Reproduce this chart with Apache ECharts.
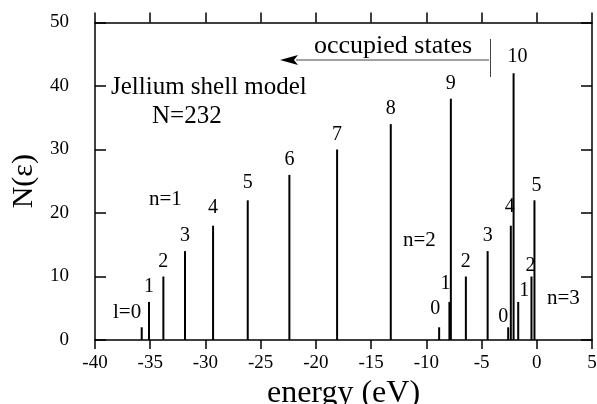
<!DOCTYPE html>
<html>
<head>
<meta charset="utf-8">
<script src="https://cdn.jsdelivr.net/npm/echarts@6/dist/echarts.min.js"></script>
<style>
  html, body { margin: 0; padding: 0; background: #fff; }
  #chart { width: 597px; height: 404px; }
</style>
</head>
<body>
<div id="chart"></div>
<script>
// shell levels of the jellium model, energies in eV, N = 2(2l+1)
const n1Energy = [-35.77, -35.11, -33.81, -31.85, -29.31, -26.17, -22.4, -18.08, -13.22, -7.78, -2.1];
const n1Count = [2, 6, 10, 14, 18, 22, 26, 30, 34, 38, 42];
const n2Energy = [-8.84, -7.91, -6.42, -4.45, -2.35, -0.21];
const n2Count = [2, 6, 10, 14, 18, 22];
const n3Energy = [-2.59, -1.68, -0.48];
const n3Count = [2, 6, 10];

const font = 'Liberation Serif';

// small label nudges where the numbers sit off the line
const nudge = {
  '1-4': [0, -3],
  '1-5': [0, -3],
  '1-10': [4, -2],
  '2-0': [-4, -4],
  '2-1': [-4, -3],
  '2-4': [-1, -4],
  '2-5': [2, 0],
  '3-0': [-5, 4],
  '3-1': [6, 4],
  '3-2': [-1, 4]
};

function levels(n, energy, count) {
  return energy.map((e, l) => {
    const item = { value: [e, count[l]] };
    const k = n + '-' + l;
    if (nudge[k]) item.label = { offset: nudge[k] };
    return item;
  });
}

function shellSeries(n, energy, count) {
  return {
    name: 'n=' + n,
    type: 'bar',
    barWidth: 2,
    barGap: '-100%',
    itemStyle: { color: '#000' },
    label: {
      show: true,
      position: 'top',
      distance: 5,
      fontSize: 20,
      fontFamily: font,
      color: '#000',
      formatter: p => (n === 1 && p.dataIndex === 0) ? '' : String(p.dataIndex)
    },
    data: levels(n, energy, count)
  };
}

function txt(str, x, y, size) {
  return {
    type: 'text',
    left: x,
    top: y - size / 2,
    style: { text: str, fontSize: size, fontFamily: font, fill: '#000' }
  };
}

const chart = echarts.init(document.getElementById('chart'));

const axisLine = { show: true, onZero: false, lineStyle: { color: '#000', width: 1.5 } };
const tickStyle = { color: '#000', width: 1.5 };

const option = {
  animation: false,
  grid: { left: 95, right: 5, top: 22.5, bottom: 64, outerBoundsMode: 'none', containLabel: false },
  xAxis: [
    {
      type: 'value',
      min: -40,
      max: 5,
      interval: 5,
      position: 'bottom',
      axisLine: axisLine,
      axisTick: { show: true, inside: false, length: 9, lineStyle: tickStyle },
      axisLabel: { fontSize: 19, fontFamily: font, color: '#000', margin: 14 },
      splitLine: { show: false },
      name: 'energy (eV)',
      nameLocation: 'middle',
      nameGap: 31,
      nameTextStyle: { fontSize: 32, fontFamily: font, color: '#000' }
    },
    {
      type: 'value',
      min: -40,
      max: 5,
      interval: 5,
      position: 'top',
      axisLine: axisLine,
      axisTick: { show: true, inside: false, length: 10, lineStyle: tickStyle },
      axisLabel: { show: false },
      splitLine: { show: false }
    }
  ],
  yAxis: [
    {
      type: 'value',
      min: 0,
      max: 50,
      interval: 10,
      position: 'left',
      axisLine: axisLine,
      axisTick: { show: true, inside: true, length: 11, lineStyle: tickStyle },
      axisLabel: { fontSize: 19, fontFamily: font, color: '#000', margin: 26 },
      splitLine: { show: false },
      name: 'N(ε)',
      nameLocation: 'middle',
      nameGap: 55,
      nameTextStyle: { fontSize: 30, fontFamily: font, color: '#000' }
    },
    {
      type: 'value',
      min: 0,
      max: 50,
      interval: 10,
      position: 'right',
      axisLine: axisLine,
      axisTick: { show: true, inside: true, length: 11, lineStyle: tickStyle },
      axisLabel: { show: false },
      splitLine: { show: false }
    }
  ],
  series: [
    shellSeries(1, n1Energy, n1Count),
    shellSeries(2, n2Energy, n2Count),
    shellSeries(3, n3Energy, n3Count)
  ],
  graphic: [
    txt('Jellium shell model', 111, 87, 25),
    txt('N=232', 152, 116, 25),
    txt('occupied states', 314, 46, 26),
    txt('n=1', 149, 199, 21),
    txt('n=2', 403, 240, 21),
    txt('n=3', 547, 298, 21),
    txt('l=0', 113, 312, 21),
    {
      type: 'line',
      shape: { x1: 296, y1: 60, x2: 489, y2: 60 },
      style: { stroke: '#444', lineWidth: 1 }
    },
    {
      type: 'polygon',
      shape: { points: [[280, 60], [298, 55], [294, 60], [298, 65]] },
      style: { fill: '#000' }
    },
    {
      type: 'line',
      shape: { x1: 490.5, y1: 39, x2: 490.5, y2: 77 },
      style: { stroke: '#444', lineWidth: 1 }
    }
  ]
};

chart.setOption(option);
</script>
</body>
</html>
